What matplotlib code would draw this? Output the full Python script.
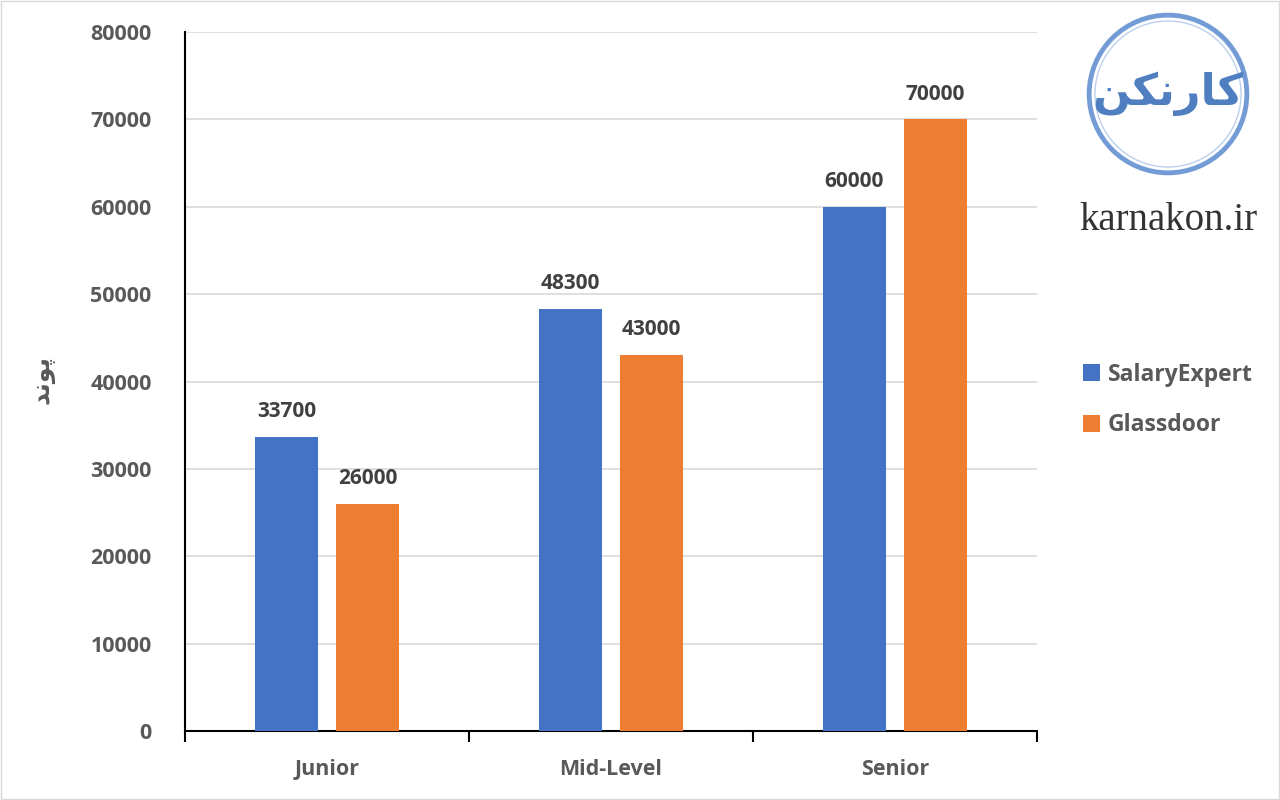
import matplotlib.pyplot as plt
import numpy as np
from matplotlib.patches import Circle, Rectangle

# data
levels = ["Junior", "Mid-Level", "Senior"]
salary_expert = [33700, 48300, 60000]
glassdoor = [26000, 43000, 70000]
y_ticks = [0, 10000, 20000, 30000, 40000, 50000, 60000, 70000, 80000]

BLUE = "#4472C4"
ORANGE = "#ED7D31"
GREY = "#595959"

# persian text in presentation forms (matplotlib does no shaping)
y_label = "\uFEAA\uFEE7\uFEEE\uFB58"          # پوند
logo_text = "\uFEE6\uFB91\uFEE7\uFEAD\uFE8E\uFB90"  # کارنکن

plt.rcParams['font.family'] = ['Open Sans', 'DejaVu Sans']

fig = plt.figure(figsize=(12.8, 8), dpi=100)
ax = fig.add_axes([185 / 1280, 69 / 800, 852 / 1280, 699 / 800])

x = np.arange(len(levels))
w = 0.222
off = 0.143
b1 = ax.bar(x - off, salary_expert, w, color=BLUE, label="SalaryExpert", zorder=3)
b2 = ax.bar(x + off, glassdoor, w, color=ORANGE, label="Glassdoor", zorder=3)

for bars, vals in ((b1, salary_expert), (b2, glassdoor)):
    for r, v in zip(bars, vals):
        ax.text(r.get_x() + r.get_width() / 2, v + 1700, str(v), ha="center",
                va="bottom", fontsize=15, fontweight="bold", color="#404040")

ax.set_xlim(-0.5, 2.5)
ax.set_ylim(0, 80000)
ax.set_yticks(y_ticks)
ax.set_yticklabels([str(t) for t in y_ticks], fontsize=15.5, fontweight="bold", color=GREY)
ax.tick_params(axis="y", length=0, pad=24)
ax.set_xticks(x)
ax.set_xticklabels(levels, fontsize=15.5, fontweight="bold", color=GREY)
ax.tick_params(axis="x", length=0, pad=20)
ax.set_xticks([-0.5, 0.5, 1.5, 2.5], minor=True)
ax.tick_params(axis="x", which="minor", length=8, width=1.5, color="black", direction="out")

ax.grid(axis="y", color="#D9D9D9", linewidth=1.2, zorder=0)
for s in ("top", "right"):
    ax.spines[s].set_visible(False)
ax.spines["left"].set_linewidth(1.5)
ax.spines["bottom"].set_linewidth(1.5)

fig.text(42 / 1280, 1 - 380 / 800, y_label, rotation=90, ha="center", va="center",
         fontsize=18, fontweight="bold", color=GREY, family=["DejaVu Sans"])

leg = fig.legend(loc="center left", bbox_to_anchor=(1062 / 1280, 1 - 400 / 800),
                 frameon=False, handlelength=0.75, handleheight=0.75,
                 handletextpad=0.35, labelspacing=1.15, prop={"weight": "bold", "size": 16.5})
for t in leg.get_texts():
    t.set_color(GREY)

# logo
lax = fig.add_axes([1085 / 1280, 1 - 177 / 800, 166 / 1280, 166 / 800])
lax.set_xlim(-1, 1)
lax.set_ylim(-1, 1)
lax.set_aspect("equal")
lax.axis("off")
lax.add_patch(Circle((0, 0), 0.95, fill=False, edgecolor="#5B8BD0", linewidth=3.5, alpha=0.85))
lax.add_patch(Circle((0, 0), 0.88, fill=False, edgecolor="#8FB0E0", linewidth=1, alpha=0.6))
lax.text(0, 0.0, logo_text, ha="center", va="center", fontsize=32, fontweight="bold",
         color="#4F7FC0", family=["DejaVu Sans"])
fig.text(1168 / 1280, 1 - 220 / 800, "karnakon.ir", ha="center", va="center",
         fontsize=28, color="#333333", family=["Liberation Serif", "DejaVu Serif"])

fig.patches.append(Rectangle((0.001, 0.001), 0.998, 0.998, transform=fig.transFigure,
                             fill=False, edgecolor="#D9D9D9", linewidth=1, figure=fig))

fig.savefig("out.png", dpi=100)
